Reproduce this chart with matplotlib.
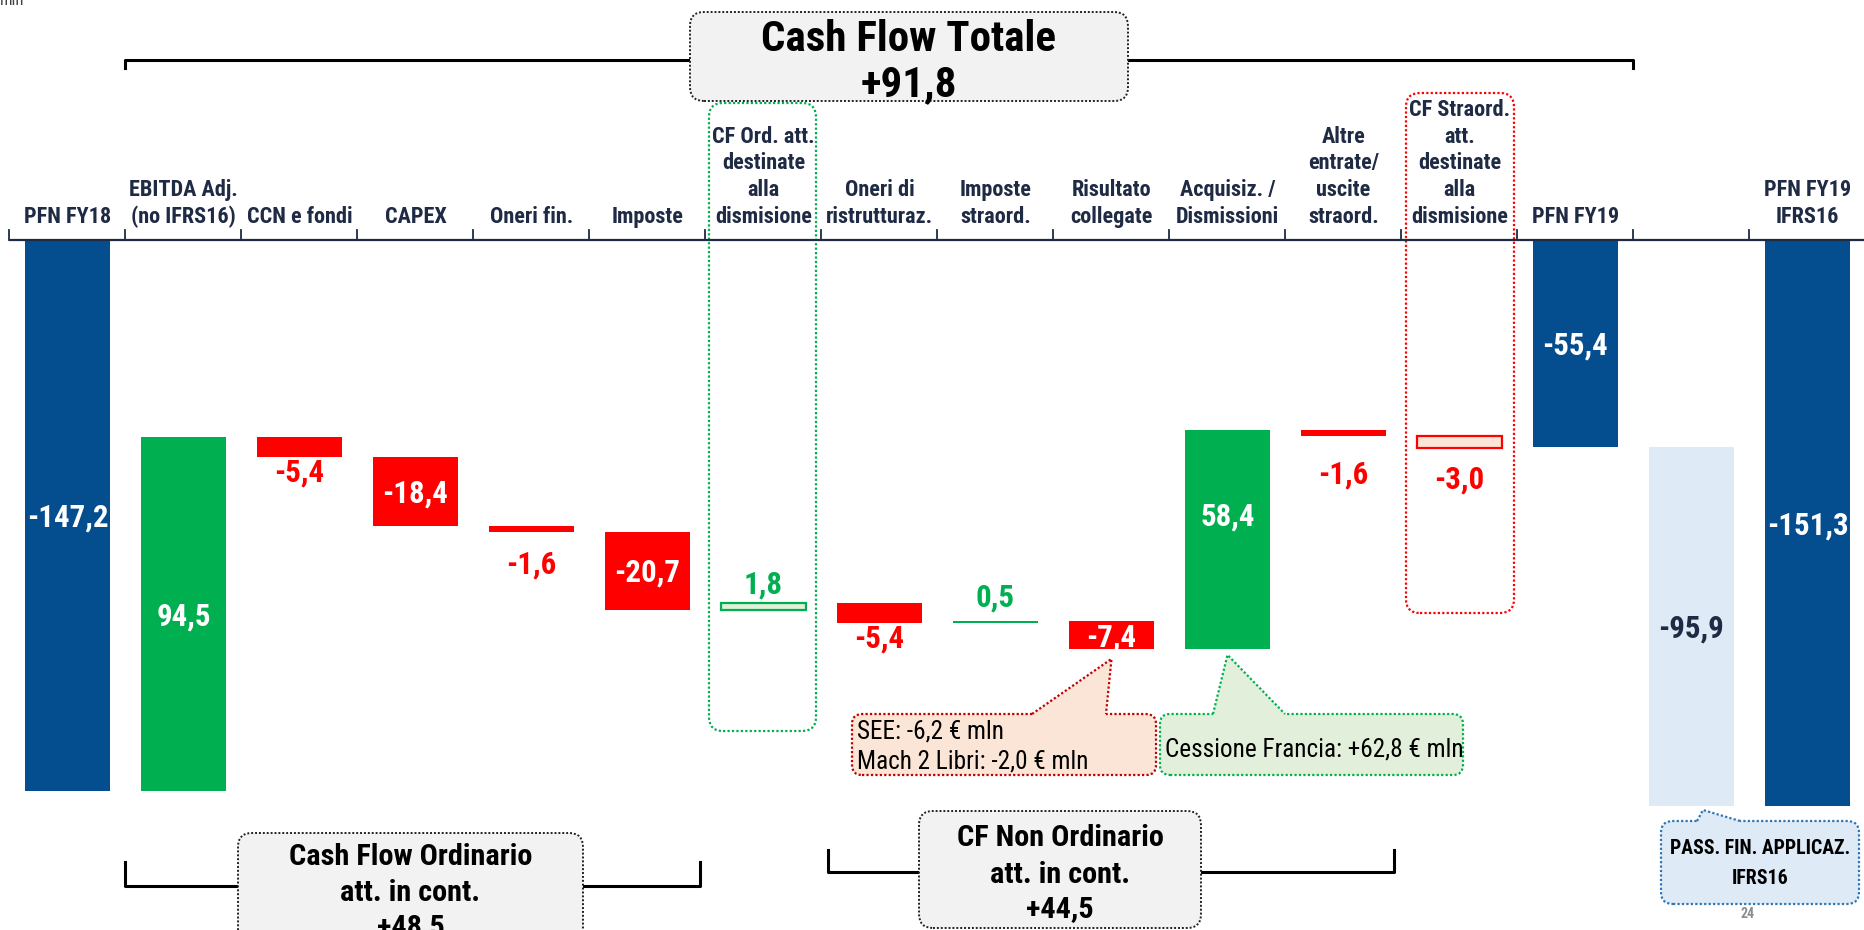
import matplotlib
matplotlib.use('Agg')
import matplotlib.pyplot as plt
from matplotlib.patches import FancyBboxPatch, Polygon
from matplotlib import font_manager

_ttf = font_manager.fontManager.ttflist
_names = {f.name for f in _ttf}
STRETCH = 'normal'
FONT = None
for cand in ['Liberation Sans Narrow', 'Roboto Condensed', 'Open Sans Condensed', 'Noto Sans Condensed']:
    if cand in _names:
        FONT = cand
        break
if FONT is None:
    if any(f.name == 'DejaVu Sans' and 'Condensed' in f.fname for f in _ttf):
        FONT, STRETCH = 'DejaVu Sans', 'condensed'
    elif 'Roboto' in _names:
        FONT = 'Roboto'
    else:
        FONT = 'DejaVu Sans'
plt.rcParams['font.family'] = [FONT, 'DejaVu Sans']
plt.rcParams['font.stretch'] = STRETCH

# ---------------- data ----------------
categories = ["PFN FY18", "EBITDA Adj.\n(no IFRS16)", "CCN e fondi", "CAPEX", "Oneri fin.",
              "Imposte", "CF Ord. att.\ndestinate\nalla\ndismisione", "Oneri di\nristrutturaz.",
              "Imposte\nstraord.", "Risultato\ncollegate", "Acquisiz. /\nDismissioni",
              "Altre\nentrate/\nuscite\nstraord.", "CF Straord.\natt.\ndestinate\nalla\ndismisione",
              "PFN FY19", "", "PFN FY19\nIFRS16"]
start_value = -147.2
deltas = [94.5, -5.4, -18.4, -1.6, -20.7, 1.8, -5.4, 0.5, -7.4, 58.4, -1.6, -3.0]
pfn_fy19 = -55.4
ifrs16_adj = -95.9
pfn_fy19_ifrs16 = -151.3

title_totale = ["Cash Flow Totale", "+91,8"]
box_ordinario = ["Cash Flow Ordinario", "att. in cont.", "+48,5"]
box_non_ordinario = ["CF Non Ordinario", "att. in cont.", "+44,5"]
note_see = ["SEE: -6,2 € mln", "Mach 2 Libri: -2,0 € mln"]
note_francia = "Cessione Francia: +62,8 € mln"
note_ifrs = ["PASS. FIN. APPLICAZ.", "IFRS16"]

# ---------------- colours ----------------
BLUE = '#044D8E'
GREEN = '#00B050'
RED = '#FF0000'
LGREEN = '#E2F0D9'
PEACH = '#FBE5D6'
LBLUE = '#DEEBF7'
NAVY = '#1F2A44'

# ---------------- waterfall geometry from data ----------------
bottoms, heights, values = [0.0], [start_value], [start_value]
running = start_value
for d in deltas:
    bottoms.append(running)
    heights.append(d)
    values.append(d)
    running += d
bottoms += [0.0, pfn_fy19, 0.0]
heights += [pfn_fy19, ifrs16_adj, pfn_fy19_ifrs16]
values += [pfn_fy19, ifrs16_adj, pfn_fy19_ifrs16]
n = len(categories)
xs = list(range(n))

face, edge = [], []
for i, v in enumerate(values):
    if i in (0, 13, 15):
        face.append(BLUE); edge.append(BLUE)
    elif i == 14:
        face.append(LBLUE); edge.append(LBLUE)
    elif i == 6:
        face.append(LGREEN); edge.append(GREEN)
    elif i == 12:
        face.append(PEACH); edge.append(RED)
    else:
        c = GREEN if v > 0 else RED
        face.append(c); edge.append(c)

# ---------------- figure, pixel helper coords ----------------
W, H = 1865, 930
X0, CW = 9.5, 116.0      # left edge of first category, category width (px)
AX_Y, SC = 240.0, 3.741  # px of zero line, px per unit
ASP = CW / SC


def X(px):
    return (px - X0) / CW - 0.5


def Y(py):
    return (AX_Y - py) / SC


fig = plt.figure(figsize=(W / 100, H / 100), dpi=100)
ax = fig.add_axes([0, 0, 1, 1])
ax.set_xlim(X(0), X(W))
ax.set_ylim(Y(H), Y(0))
ax.axis('off')
renderer = fig.canvas.get_renderer()


def fit_size(sample, target_px, weight='bold'):
    t = ax.text(0, 0, sample, fontsize=20, fontweight=weight)
    w = t.get_window_extent(renderer).width
    t.remove()
    return 20.0 * target_px / w


def cap_units(size_pt):
    return 0.72 * size_pt * 100 / 72 / SC


S_CAT = (fit_size("PFN FY18", 82) + fit_size("Imposte", 73) + fit_size("dismisione", 101)) / 3
S_VAL = (fit_size("-147,2", 83) + fit_size("-18,4", 64)) / 2
S_TIT = fit_size("Cash Flow Totale", 295)
S_BOX = fit_size("Cash Flow Ordinario", 243)
S_NOTE = fit_size("Mach 2 Libri: -2,0 € mln", 232, 'normal')
S_IFRS = fit_size("PASS. FIN. APPLICAZ.", 180)


def ctext(x, py_center, s, size, color='black', weight='bold', ha='center', z=7):
    ax.text(x, Y(py_center) - cap_units(size) / 2, s, ha=ha, va='baseline', fontsize=size,
            fontweight=weight, color=color, zorder=z)


ax.bar(xs, heights, bottom=bottoms, width=0.73, color=face, edgecolor=edge,
       linewidth=[1.6 if i in (6, 12) else 0 for i in xs], zorder=3)

# axis line with ticks at category boundaries
ax.plot([-0.5, n - 0.5], [0, 0], color=NAVY, lw=1.6, zorder=4, solid_capstyle='butt')
for b in range(n + 1):
    ax.plot([b - 0.5, b - 0.5], [0, 10 / SC], color=NAVY, lw=1.3, zorder=4)

# category labels, one line at a time from the bottom
for i, c in enumerate(categories):
    lines = c.split("\n") if c else []
    for k, line in enumerate(reversed(lines)):
        ax.text(i, Y(223 - 26.8 * k), line, ha='center', va='baseline', fontsize=S_CAT,
                fontweight='bold', color=NAVY, zorder=5)

# value labels
mode = ['in', 'in', 'below', 'in', 'below', 'in', 'above', 'below', 'above', 'in', 'in',
        'below', 'below', 'in', 'in', 'in']
off_px = [0, 0, 13, 0, 30, 0, 20, 13, 26, 0, 25, 36, 30, 0, 0, 0]
for i, v in enumerate(values):
    top = max(bottoms[i], bottoms[i] + heights[i])
    bot = min(bottoms[i], bottoms[i] + heights[i])
    txt = f"{v:.1f}".replace('.', ',')
    if mode[i] == 'in':
        y = (top + bot) / 2 + off_px[i] / SC
        col = NAVY if i == 14 else 'white'
    elif mode[i] == 'below':
        y = bot - off_px[i] / SC
        col = RED
    else:
        y = top + off_px[i] / SC
        col = GREEN
    ax.text(i, y - cap_units(S_VAL) / 2, txt, ha='center', va='baseline', fontsize=S_VAL,
            fontweight='bold', color=col, zorder=6)


def rbox(x0, y0, x1, y1, fc, ec, r=12, lw=1.6, z=5):
    p = FancyBboxPatch((X(x0), Y(y1)), X(x1) - X(x0), Y(y0) - Y(y1),
                       boxstyle=f'round,pad=0,rounding_size={r / CW}', mutation_aspect=ASP,
                       facecolor=fc, edgecolor=ec, linewidth=lw, linestyle=(0, (1, 1)),
                       zorder=z)
    ax.add_patch(p)


def pointer(bl, br, ybase, tip, fc, ec, z=6):
    bx0, bx1, yb = X(bl), X(br), Y(ybase)
    ax.add_patch(Polygon([(bx0, yb - 3 / SC), (bx0, yb), tip, (bx1, yb), (bx1, yb - 3 / SC)],
                         closed=True, facecolor=fc, edgecolor='none', zorder=z))
    ax.plot([bx0, tip[0], bx1], [yb, tip[1], yb], color=ec, lw=1.6,
            linestyle=(0, (1, 1)), zorder=z + 0.1)


# dotted frames around the "destinate alla dismisione" columns
rbox(709, 103, 816, 731, 'none', GREEN, r=14, z=2)
rbox(1406, 93, 1514, 613, 'none', RED, r=14, z=2)

# top bracket + Cash Flow Totale box
ax.plot([0.5, 0.5, 13.5, 13.5], [Y(68), Y(59.5), Y(59.5), Y(68)], color='black', lw=2.2, zorder=4)
rbox(690, 12, 1128, 101, '#F2F2F2', '#222222', r=14, lw=1.4, z=6)
cx = (X(690) + X(1128)) / 2
for t, py in zip(title_totale, [36, 81]):
    ctext(cx, py, t, S_TIT)

# bottom brackets and boxes
ax.plot([0.5, 0.5, 5.45, 5.45], [Y(862), Y(886), Y(886), Y(862)], color='black', lw=2.2, zorder=4)
rbox(238, 833, 583, 945, '#F2F2F2', '#222222', r=14, lw=1.4, z=6)
cx = (X(238) + X(583)) / 2
for t, py in zip(box_ordinario, [854, 890, 924]):
    ctext(cx, py, t, S_BOX)

ax.plot([X(828), X(828), X(1394), X(1394)], [Y(850), Y(872), Y(872), Y(850)],
        color='black', lw=2.2, zorder=4)
rbox(919, 811, 1201, 928, '#F2F2F2', '#222222', r=14, lw=1.4, z=6)
cx = (X(919) + X(1201)) / 2
for t, py in zip(box_non_ordinario, [835, 872, 906]):
    ctext(cx, py, t, S_BOX)

# callout SEE / Mach 2
b9 = min(bottoms[9], bottoms[9] + heights[9])
rbox(852, 714, 1156, 775, PEACH, '#C00000', r=10, z=6)
pointer(1032, 1106, 714, (9, b9 - 10 / SC), PEACH, '#C00000', z=6.5)
for t, py in zip(note_see, [729, 759]):
    ctext(X(857), py, t, S_NOTE, weight='normal', ha='left')

# callout Cessione Francia
b10 = min(bottoms[10], bottoms[10] + heights[10])
rbox(1160, 714, 1463, 775, '#E2EFDA', GREEN, r=10, z=6)
pointer(1213, 1285, 714, (10, b10 - 6 / SC), '#E2EFDA', GREEN, z=6.5)
ctext(X(1165), 747, note_francia, S_NOTE, weight='normal', ha='left')

# callout IFRS16
b14 = min(bottoms[14], bottoms[14] + heights[14])
rbox(1661, 821, 1859, 904, LBLUE, '#2E75B6', r=12, z=6)
pointer(1697, 1740, 821, (X(1703), b14 - 4 / SC), LBLUE, '#2E75B6', z=6.5)
cx = (X(1661) + X(1859)) / 2
for t, py in zip(note_ifrs, [847, 877]):
    ctext(cx, py, t, S_IFRS)

# page number & unit
ctext(X(1748), 913, "24", 10, color='#8C8C8C')
ax.text(X(0), Y(0), "mln", ha='left', va='center', fontsize=12, color='#404040', zorder=7)

fig.savefig('out.png', dpi=100)
